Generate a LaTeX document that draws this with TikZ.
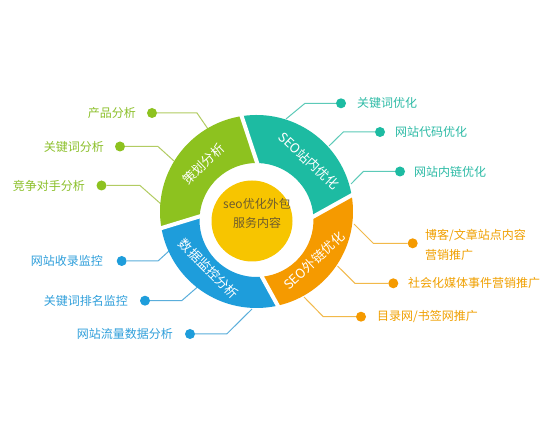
\documentclass[tikz,border=0pt]{standalone}
\usepackage{fontspec}
\newfontfamily\cjk{Noto Sans CJK SC}
\usetikzlibrary{calc}
\definecolor{gseg}{HTML}{8DC21F}
\definecolor{tseg}{HTML}{1DBBA2}
\definecolor{bseg}{HTML}{1E9DDB}
\definecolor{oseg}{HTML}{F59A00}
\definecolor{yel}{HTML}{F7C500}
\definecolor{gtxt}{HTML}{8CC02A}
\definecolor{ttxt}{HTML}{2DBBA6}
\definecolor{btxt}{HTML}{2F9FDB}
\definecolor{otxt}{HTML}{F0A000}
\definecolor{gline}{HTML}{B2CC62}
\definecolor{tline}{HTML}{5CCAB8}
\definecolor{bline}{HTML}{5AAEDB}
\definecolor{oline}{HTML}{F2B94A}
\definecolor{ctxt}{HTML}{6E5C2E}
\tikzset{
  conn/.style={line width=1pt},
  dotg/.style={circle,fill=gseg,minimum size=10pt,inner sep=0pt},
  dott/.style={circle,fill=tseg,minimum size=10pt,inner sep=0pt},
  dotb/.style={circle,fill=bseg,minimum size=10pt,inner sep=0pt},
  doto/.style={circle,fill=oseg,minimum size=10pt,inner sep=0pt},
  lbl/.style={inner sep=0pt,font=\cjk\fontsize{12}{20}\selectfont},
  seglbl/.style={inner sep=0pt,text=white,font=\cjk\fontsize{13}{15}\selectfont},
  gapline/.style={white,line width=4pt,line cap=butt}
}
\begin{document}
\begin{tikzpicture}[x=1pt,y=1pt]
\useasboundingbox[fill=white] (0,0) rectangle (552,434);
\coordinate (O1) at (256.5,222.5);
\coordinate (O2) at (256.5,214);
% ---------- connectors: green (left top)
\node[dotg] (g1) at (152,321) {};
\node[dotg] (g2) at (120,287.5) {};
\node[dotg] (g3) at (101.5,248.5) {};
\coordinate (g1b) at (197,321); \coordinate (g1e) at (208,305);
\coordinate (g2b) at (158,287.5); \coordinate (g2e) at (174,273);
\coordinate (g3b) at (140,248.5); \coordinate (g3e) at (161,230);
\draw[conn,gline] (g1) -- (g1b) -- (g1e);
\draw[conn,gline] (g2) -- (g2b) -- (g2e);
\draw[conn,gline] (g3) -- (g3b) -- (g3e);
\node[lbl,text=gtxt,anchor=east] (tg1) at (136,321) {产品分析};
\node[lbl,text=gtxt,anchor=east] (tg2) at (104,287.5) {关键词分析};
\node[lbl,text=gtxt,anchor=east] (tg3) at (85,248.5) {竞争对手分析};
% ---------- connectors: blue (left bottom)
\node[dotb] (b1) at (121.7,173) {};
\node[dotb] (b2) at (145,133.3) {};
\node[dotb] (b3) at (190,100) {};
\coordinate (b1b) at (158,173); \coordinate (b1e) at (169,183);
\coordinate (b2b) at (181.7,133.3); \coordinate (b2e) at (197.5,147);
\coordinate (b3b) at (226.7,100); \coordinate (b3e) at (252,125);
\draw[conn,bline] (b1) -- (b1b) -- (b1e);
\draw[conn,bline] (b2) -- (b2b) -- (b2e);
\draw[conn,bline] (b3) -- (b3b) -- (b3e);
\node[lbl,text=btxt,anchor=east] (tb1) at (103,173) {网站收录监控};
\node[lbl,text=btxt,anchor=east] (tb2) at (128,133.3) {关键词排名监控};
\node[lbl,text=btxt,anchor=east] (tb3) at (173,100) {网站流量数据分析};
% ---------- connectors: teal (right top)
\node[dott] (t1) at (341,330.7) {};
\node[dott] (t2) at (380,302) {};
\node[dott] (t3) at (400,262.5) {};
\coordinate (t1b) at (305,330.7); \coordinate (t1e) at (286,315);
\coordinate (t2b) at (343.3,302); \coordinate (t2e) at (329,288);
\coordinate (t3b) at (363.3,262.5); \coordinate (t3e) at (351,250);
\draw[conn,tline] (t1) -- (t1b) -- (t1e);
\draw[conn,tline] (t2) -- (t2b) -- (t2e);
\draw[conn,tline] (t3) -- (t3b) -- (t3e);
\node[lbl,text=ttxt,anchor=west] (tt1) at (357,330.7) {关键词优化};
\node[lbl,text=ttxt,anchor=west] (tt2) at (395,302) {网站代码优化};
\node[lbl,text=ttxt,anchor=west] (tt3) at (414,262.5) {网站内链优化};
% ---------- connectors: orange (right bottom)
\node[doto] (o1) at (412.7,190.7) {};
\node[doto] (o2) at (393.3,150.7) {};
\node[doto] (o3) at (361,117.3) {};
\coordinate (o1b) at (373.3,190.7); \coordinate (o1e) at (354,210);
\coordinate (o2b) at (355,150.7); \coordinate (o2e) at (337.5,168);
\coordinate (o3b) at (323.3,117.3); \coordinate (o3e) at (304,137);
\draw[conn,oline] (o1) -- (o1b) -- (o1e);
\draw[conn,oline] (o2) -- (o2b) -- (o2e);
\draw[conn,oline] (o3) -- (o3b) -- (o3e);
\node[lbl,text=otxt,anchor=west,align=left] (to1) at (425,189) {博客/文章站点内容\\营销推广};
\node[lbl,text=otxt,anchor=west] (to2) at (408,150.7) {社会化媒体事件营销推广};
\node[lbl,text=otxt,anchor=west] (to3) at (377,117.3) {目录网/书签网推广};
% ---------- ring segments
\fill[tseg] ($(O1)+(10:96.5)$) arc[start angle=10,end angle=99,radius=96.5]
   -- ($(O2)+(89:57)$) arc[start angle=89,end angle=3,radius=57] -- cycle;
\fill[gseg] ($(O1)+(99:96.5)$) arc[start angle=99,end angle=190,radius=96.5]
   -- ($(O2)+(176:57)$) arc[start angle=176,end angle=89,radius=57] -- cycle;
\fill[bseg] ($(O1)+(190:96.5)$) arc[start angle=190,end angle=283,radius=96.5]
   -- ($(O2)+(275:57)$) arc[start angle=275,end angle=176,radius=57] -- cycle;
\fill[oseg] ($(O1)+(283:96.5)$) arc[start angle=283,end angle=370,radius=96.5]
   -- ($(O2)+(363:57)$) arc[start angle=363,end angle=275,radius=57] -- cycle;
% gaps
\draw[gapline] ($(O2)+(89:56)$) -- ($(O1)+(99:98)$);
\draw[gapline] ($(O2)+(176:56)$) -- ($(O1)+(190:98)$);
\draw[gapline] ($(O2)+(275:56)$) -- ($(O1)+(283:98)$);
\draw[gapline] ($(O2)+(3:56)$) -- ($(O1)+(10:98)$);
% ---------- centre
\node[circle,fill=yel,minimum size=81pt,inner sep=0pt] (ctr) at (252,213) {};
\node[lbl,text=ctxt,align=center,font=\cjk\fontsize{12}{19}\selectfont] (ctxt) at (257,220.5) {seo优化外包\\服务内容};
% ---------- segment labels
\node[seglbl,rotate=44] (sg) at (203.3,269.7) {策划分析};
\node[seglbl,rotate=-43] (st) at (309,273.3) {SEO站内优化};
\node[seglbl,rotate=43] (so) at (314,173.3) {SEO外链优化};
\node[seglbl,rotate=-45] (sb) at (209,165) {数据监控分析};
\end{tikzpicture}
\end{document}
